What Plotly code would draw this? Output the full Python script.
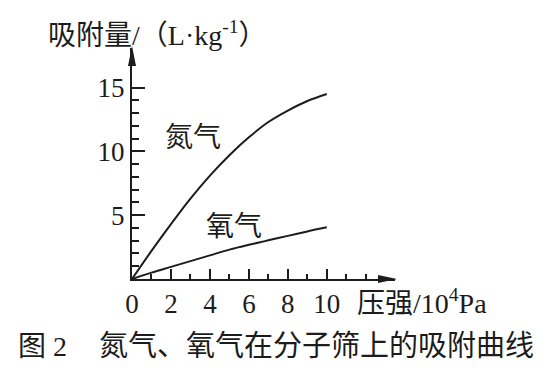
import plotly.graph_objects as go

# Data
pressure = [0, 1, 2, 3, 4, 5, 6, 7, 8, 9, 10]
nitrogen = [0, 2.2, 4.3, 6.3, 8.1, 9.7, 11.1, 12.3, 13.2, 13.95, 14.5]
oxygen = [0, 0.5, 0.95, 1.4, 1.85, 2.3, 2.68, 3.03, 3.38, 3.73, 4.05]
x_ticks = [0, 2, 4, 6, 8, 10]
x_minor = [1, 3, 5, 7, 9, 11, 12]
y_ticks = [5, 10, 15]
y_minor = [1, 2, 3, 4, 6, 7, 8, 9, 11, 12, 13, 14]

INK = "#1c1c1c"
SERIF = "Liberation Serif, Noto Sans CJK SC"

W, H = 555, 370
L, R, T, B = 132, 395, 48, 279
XMAX, YMAX = 13.5, 18.1

def px(x):
    return (x - L) / (R - L)

def py(y):
    return (B - y) / (B - T)

fig = go.Figure()
fig.add_trace(go.Scatter(x=pressure, y=nitrogen, mode="lines", line=dict(color=INK, width=2, shape="spline"), hoverinfo="skip"))
fig.add_trace(go.Scatter(x=pressure, y=oxygen, mode="lines", line=dict(color=INK, width=2, shape="spline"), hoverinfo="skip"))

def txt(x, y, s, size, anchor="left"):
    return dict(x=px(x), y=py(y), xref="paper", yref="paper", xanchor=anchor, yanchor="middle",
                text=s, showarrow=False, font=dict(family=SERIF, size=size, color=INK))

ann = [
    txt(46, 33, "吸附量/（L·kg<sup>-1</sup>）", 28),
    txt(355, 301, "压强/10<sup>4</sup>Pa", 28),
    txt(193, 137, "氮气", 28, "center"),
    txt(234, 226, "氧气", 28, "center"),
    txt(16, 346, "图 2", 28),
    txt(97, 346, "氮气、氧气在分子筛上的吸附曲线", 29),
]

shapes = [
    dict(type="path", xref="paper", yref="paper", xsizemode="pixel", ysizemode="pixel",
         xanchor=1, yanchor=0, path="M2,0 L-17,4 L-17,-4 Z", fillcolor=INK, line=dict(width=0), layer="above"),
    dict(type="path", xref="paper", yref="paper", xsizemode="pixel", ysizemode="pixel",
         xanchor=0, yanchor=1, path="M0,2 L-4,-18 L4,-18 Z", fillcolor=INK, line=dict(width=0), layer="above"),
]

fig.update_layout(
    width=W, height=H,
    margin=dict(l=L, r=W - R, t=T, b=H - B),
    paper_bgcolor="white", plot_bgcolor="white",
    showlegend=False,
    annotations=ann,
    shapes=shapes,
    xaxis=dict(range=[0, XMAX], showgrid=False, zeroline=False, showline=True, linewidth=2, linecolor=INK,
               tickmode="array", tickvals=x_ticks, ticktext=[str(v) for v in x_ticks],
               ticks="inside", ticklen=10, tickwidth=2, tickcolor=INK,
               tickfont=dict(family=SERIF, size=27, color=INK),
               minor=dict(tickmode="array", tickvals=x_minor, ticks="inside", ticklen=5, tickwidth=2, tickcolor=INK)),
    yaxis=dict(range=[0, YMAX], showgrid=False, zeroline=False, showline=True, linewidth=2, linecolor=INK,
               tickmode="array", tickvals=y_ticks, ticktext=[str(v) for v in y_ticks],
               ticks="inside", ticklen=13, tickwidth=2, tickcolor=INK,
               tickfont=dict(family=SERIF, size=27, color=INK),
               minor=dict(tickmode="array", tickvals=y_minor, ticks="inside", ticklen=7, tickwidth=2, tickcolor=INK)),
)

fig.write_html("out.html")
